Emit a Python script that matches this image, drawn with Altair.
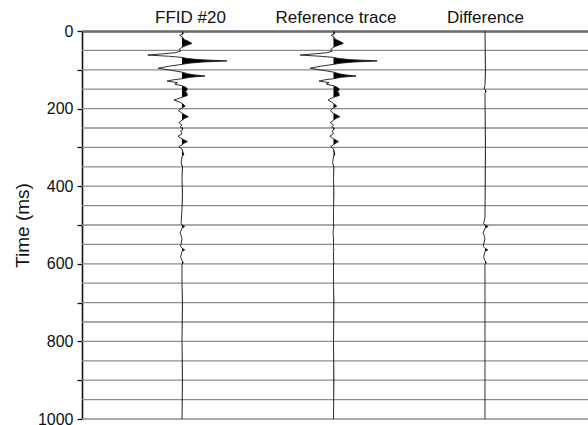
import altair as alt
import pandas as pd

# Trace names, shown across the top, left to right
trace_names = ["FFID #20", "Reference trace", "Difference"]

# Sample times (ms) shared by the two recorded traces
trace_time = [0, 6, 11, 16, 22, 27, 32, 37, 42, 47, 52, 56, 59, 62, 65, 68, 71, 74, 77, 80,
              83, 86, 91, 96, 101, 106, 110, 113, 116, 119, 123, 126, 129, 133, 137, 141,
              146, 151, 156, 161, 166, 171, 175, 178, 183, 187, 191, 194, 198, 205, 212,
              217, 221, 225, 230, 236, 242, 247, 252, 258, 265, 271, 278, 282, 285, 289,
              293, 298, 304, 312, 318, 324, 340, 350, 380, 420, 460, 496, 500, 504, 508,
              520, 535, 555, 560, 564, 568, 582, 592, 597, 601, 650, 700, 800, 900, 1000]

# Normalised amplitudes of shot record FFID #20
ffid_amp = [0.00, 0.03, -0.05, 0.01, 0.05, 0.15, 0.22, 0.10, 0.00, -0.06, -0.03, -0.15,
            -0.45, -0.76, -0.30, 0.00, 0.12, 0.40, 1.00, 0.45, 0.15, 0.00, -0.30, -0.53,
            -0.25, 0.00, 0.12, 0.25, 0.51, 0.18, 0.00, -0.20, -0.33, -0.10, -0.16, 0.00,
            0.10, 0.12, 0.08, 0.11, 0.12, 0.00, -0.10, -0.18, -0.05, 0.00, 0.05, 0.07,
            0.00, -0.08, 0.00, 0.08, 0.14, 0.06, 0.00, -0.07, 0.00, -0.04, 0.02, -0.03,
            0.00, -0.09, 0.00, 0.07, 0.12, 0.05, 0.00, -0.07, 0.00, 0.02, 0.04, 0.00,
            -0.02, 0.01, 0.00, 0.01, 0.00, -0.02, 0.00, 0.06, 0.00, -0.04, 0.00, -0.03,
            0.00, 0.06, 0.00, -0.03, 0.00, 0.03, 0.00, 0.00, 0.01, 0.00, 0.01, 0.00]

# Normalised amplitudes of the reference trace
ref_amp = [0.00, 0.03, -0.05, 0.01, 0.05, 0.15, 0.22, 0.10, 0.00, -0.06, -0.03, -0.15,
           -0.44, -0.74, -0.30, 0.00, 0.12, 0.40, 0.97, 0.44, 0.15, 0.00, -0.30, -0.52,
           -0.25, 0.00, 0.12, 0.25, 0.50, 0.18, 0.00, -0.20, -0.32, -0.10, -0.16, 0.00,
           0.10, 0.13, 0.09, 0.12, 0.13, 0.00, -0.08, -0.12, -0.04, 0.00, 0.05, 0.07,
           0.00, -0.07, 0.00, 0.08, 0.14, 0.06, 0.00, -0.07, 0.00, -0.04, 0.02, -0.03,
           0.00, -0.08, 0.00, 0.07, 0.11, 0.05, 0.00, -0.06, 0.00, 0.02, 0.03, 0.00,
           -0.02, 0.01, 0.00, 0.01, 0.00, 0.00, 0.00, 0.01, 0.00, -0.01, 0.00, 0.00,
           0.00, 0.01, 0.00, 0.00, 0.00, 0.01, 0.00, 0.00, 0.01, 0.00, 0.01, 0.00]

# Difference trace (FFID #20 minus reference)
diff_time = [0, 100, 140, 150, 155, 160, 170, 300, 480, 496, 500, 504, 508, 520, 535,
             555, 560, 564, 568, 582, 592, 597, 601, 700, 1000]
diff_amp = [0.00, 0.01, 0.00, -0.02, 0.03, 0.00, 0.00, 0.01, 0.00, -0.03, 0.00, 0.07,
            0.00, -0.04, 0.00, -0.04, 0.00, 0.06, 0.00, -0.03, 0.00, 0.03, 0.00, 0.00, 0.00]

# Horizontal timing lines (ms)
grid_time = list(range(0, 1001, 50))

# Trace gain, in trace spacings per unit amplitude
GAIN = 0.297
FONT = "Liberation Sans"

rows = []
for idx, (times, amps) in enumerate([(trace_time, ffid_amp),
                                     (trace_time, ref_amp),
                                     (diff_time, diff_amp)]):
    for t, a in zip(times, amps):
        rows.append({"trace": trace_names[idx], "idx": idx, "time": t, "amp": a})
traces = pd.DataFrame(rows)
grid = pd.DataFrame({"time": grid_time})

label_expr = " : ".join(
    f"datum.value == {i} ? '{name}'" for i, name in enumerate(trace_names[:-1])
) + f" : '{trace_names[-1]}'"

x_scale = alt.Scale(domain=[-0.66, 2.68], nice=False, zero=False)
y_scale = alt.Scale(domain=[0, 1000], reverse=True, nice=False)

x_axis = alt.Axis(orient="top", values=[0, 1, 2], labelExpr=label_expr, title=None,
                  ticks=False, grid=False, domainColor="#111", domainWidth=2.2,
                  labelFont=FONT, labelFontSize=17, labelColor="#111",
                  labelPadding=5, labelAngle=0,
                  labelOffset={"condition": [{"test": "datum.value == 0", "value": 8},
                                             {"test": "datum.value == 1", "value": 2}],
                               "value": 0})
y_axis = alt.Axis(values=list(range(0, 1001, 100)),
                  labelExpr="datum.value % 200 == 0 ? datum.label : ''",
                  title="Time (ms)", titleFont=FONT, titleFontSize=19,
                  titleFontWeight="normal", titleColor="#111", titlePadding=5,
                  labelFont=FONT, labelFontSize=16, labelColor="#111",
                  labelOverlap=False, labelFlush=False, labelPadding=4,
                  tickSize=5, tickColor="#111", tickWidth=1.3,
                  domainColor="#111", domainWidth=1.6, grid=False, format="d")

gridlines = alt.Chart(grid).mark_rule(color="#8c8c8c", strokeWidth=1.3).encode(
    y=alt.Y("time:Q", scale=y_scale, axis=y_axis)
)

base = alt.Chart(traces).transform_calculate(
    xw="datum.idx + datum.amp * %f" % GAIN,
    xf="datum.idx + max(datum.amp, 0) * %f" % GAIN,
)

fill = base.mark_area(orient="horizontal", color="black", opacity=1).encode(
    y=alt.Y("time:Q", scale=y_scale, axis=y_axis),
    x=alt.X("xf:Q", scale=x_scale, axis=x_axis),
    x2="idx:Q",
    detail="trace:N",
)

wiggle = base.mark_line(color="#1a1a1a", strokeWidth=0.9).encode(
    y=alt.Y("time:Q", scale=y_scale, axis=y_axis),
    x=alt.X("xw:Q", scale=x_scale, axis=x_axis),
    order="time:Q",
    detail="trace:N",
)

chart = alt.layer(gridlines, fill, wiggle).properties(
    width=506,
    height=388,
    autosize=alt.AutoSizeParams(type="none"),
    padding={"left": 82, "top": 31, "right": 0, "bottom": 6},
    background="white",
).configure_view(stroke=None)

chart.save("out.html", embed_options={"renderer": "svg", "actions": False})
